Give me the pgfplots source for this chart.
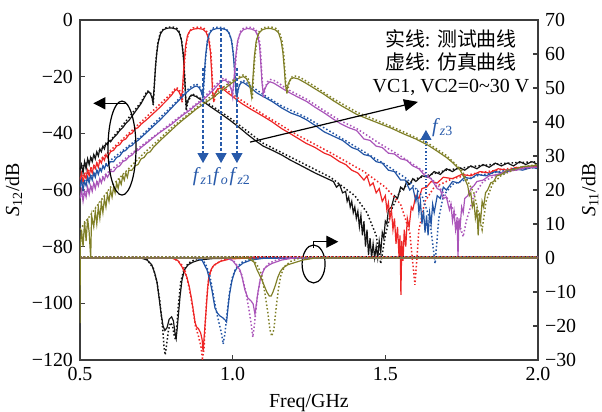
\documentclass[border=0pt]{standalone}
\usepackage{fontspec}
\setmainfont{Liberation Serif}
\newfontfamily\cjk{Noto Sans CJK SC}
\usepackage{pgfplots}
\pgfplotsset{compat=1.18}
\usetikzlibrary{arrows.meta}
\definecolor{cblk}{RGB}{20,20,20}
\definecolor{cred}{RGB}{238,38,38}
\definecolor{cblue}{RGB}{35,85,165}
\definecolor{cpur}{RGB}{170,85,185}
\definecolor{coli}{RGB}{128,128,40}
\definecolor{anblue}{RGB}{40,90,170}
\definecolor{axgray}{RGB}{60,60,60}
\tikzset{meas/.style={line width=0.6bp},
  sim/.style={line width=0.75bp, dash pattern=on 0.75bp off 1.1bp}}
\begin{document}
\begin{tikzpicture}[font=\fontsize{10}{12}\selectfont]
\begin{axis}[
  scale only axis, width=229bp, height=170bp,
  xmin=0.5, xmax=2.0, ymin=-120, ymax=0,
  xtick={0.5,1.0,1.5,2.0}, xticklabels={0.5,1.0,1.5,2.0},
  ytick={-120,-100,-80,-60,-40,-20,0},
  yticklabels={−120,−100,−80,−60,−40,−20,0},
  xtick pos=bottom, ytick pos=left, tick align=inside,
  major tick length=2.5bp,
  axis line style={axgray, line width=0.7bp},
  tick style={axgray, line width=0.6bp},
  xlabel={Freq/GHz}, ylabel={\textit{S}\textsubscript{12}/dB},
  ylabel style={yshift=-2bp},
  no markers, clip=true,
]
% ---- black
\addplot[cblk, meas] coordinates {(0.500,-53)(0.505,-51)(0.510,-54)(0.515,-50)(0.520,-52.5)(0.525,-49)(0.530,-51)(0.535,-48.5)(0.540,-50)(0.545,-47.5)(0.550,-49)(0.555,-46.5)(0.560,-48)(0.565,-45.5)(0.570,-46.5)(0.575,-44.5)(0.580,-45.5)(0.585,-43.5)(0.590,-44)(0.595,-42.5)(0.600,-43)(0.61,-41.5)(0.62,-40.5)(0.63,-39)(0.64,-38)(0.65,-36.5)(0.66,-35.5)(0.67,-34)(0.68,-32.5)(0.69,-31)(0.70,-29.5)(0.71,-27.5)(0.718,-26)(0.725,-25.3)(0.731,-26)(0.736,-27.5)(0.739,-29)(0.743,-24)(0.747,-17)(0.751,-12)(0.756,-8)(0.763,-5)(0.772,-3.5)(0.785,-2.9)(0.80,-2.8)(0.815,-3.2)(0.825,-4.5)(0.832,-7)(0.838,-12)(0.842,-19)(0.846,-27)(0.848,-30.5)(0.853,-28.5)(0.86,-27)(0.867,-26.5)(0.88,-27)(0.90,-28.5)(0.93,-30.8)(0.96,-33)(0.99,-35.3)(1.02,-37.8)(1.05,-40.5)(1.08,-43)(1.10,-44.5)(1.13,-46)(1.16,-47.6)(1.19,-49.5)(1.21,-50.6)(1.24,-52.3)(1.27,-54)(1.30,-55.5)(1.32,-56.5)(1.33,-57)(1.34,-59)(1.35,-58)(1.36,-61)(1.37,-60.5)(1.375,-64)(1.38,-62.5)(1.385,-66)(1.39,-64)(1.395,-68)(1.40,-66)(1.405,-70)(1.41,-67.5)(1.415,-73)(1.42,-69)(1.425,-76)(1.43,-71)(1.435,-80)(1.44,-74)(1.445,-83)(1.45,-77)(1.455,-84)(1.46,-79)(1.465,-84)(1.47,-80)(1.475,-84)(1.48,-78)(1.485,-82)(1.49,-75)(1.495,-77)(1.50,-71)(1.505,-72)(1.51,-67)(1.52,-66)(1.53,-62)(1.54,-63)(1.55,-59)(1.56,-60)(1.57,-57)(1.58,-58)(1.59,-56)(1.60,-57)(1.62,-55)(1.64,-55.5)(1.66,-53.5)(1.68,-54.5)(1.70,-52.5)(1.72,-53.5)(1.74,-52)(1.76,-53)(1.78,-51.5)(1.80,-52.5)(1.82,-51)(1.84,-52)(1.86,-50.5)(1.88,-51.5)(1.90,-50.5)(1.92,-51.5)(1.94,-50)(1.96,-51)(1.98,-50)(2.0,-51)};
\addplot[cblk, sim] coordinates {(0.5,-52.5)(0.6,-42.5)(0.7,-29)(0.72,-25)(0.73,-25.5)(0.737,-27.5)(0.740,-30)(0.744,-22)(0.749,-14)(0.755,-8)(0.763,-4.5)(0.775,-3)(0.79,-2.5)(0.805,-2.5)(0.818,-3)(0.827,-4.5)(0.834,-8)(0.84,-14)(0.844,-22)(0.848,-32)(0.853,-29)(0.867,-26)(0.90,-28)(0.99,-34.5)(1.1,-43.5)(1.21,-49.5)(1.32,-55.5)(1.40,-62)(1.44,-68)(1.47,-76)(1.485,-86)(1.50,-76)(1.52,-67)(1.55,-60)(1.60,-56)(1.70,-53)(1.80,-51.5)(1.9,-50.5)(2.0,-50)};
% ---- red
\addplot[cred, meas] coordinates {(0.5,-56.5)(0.505,-54)(0.51,-57.5)(0.515,-54.5)(0.52,-56)(0.525,-53)(0.53,-55)(0.535,-52.5)(0.54,-54)(0.545,-51.5)(0.55,-52.5)(0.555,-50.5)(0.56,-52)(0.565,-49.5)(0.57,-50.5)(0.575,-48.5)(0.58,-49.5)(0.585,-47.5)(0.59,-48.5)(0.6,-46.5)(0.61,-46)(0.62,-44.5)(0.63,-44)(0.64,-42.5)(0.65,-42)(0.66,-40.5)(0.67,-40)(0.68,-38.5)(0.69,-38)(0.70,-36.8)(0.72,-35)(0.74,-33)(0.76,-31)(0.78,-28.8)(0.80,-26.5)(0.81,-25)(0.817,-24.5)(0.824,-25.3)(0.829,-26.5)(0.833,-28)(0.837,-22)(0.841,-15)(0.846,-9)(0.852,-5.5)(0.86,-3.8)(0.872,-3.2)(0.888,-3)(0.903,-3.3)(0.913,-4.3)(0.921,-6.5)(0.927,-11)(0.931,-18)(0.934,-25)(0.937,-28)(0.942,-26)(0.95,-24.5)(0.959,-24)(0.97,-24.5)(0.985,-25.8)(1.0,-27)(1.03,-29.5)(1.06,-31.5)(1.10,-34)(1.13,-36)(1.16,-38.3)(1.19,-40.2)(1.21,-41.5)(1.24,-43.5)(1.27,-45)(1.30,-47)(1.32,-47.8)(1.35,-50)(1.37,-51)(1.39,-53)(1.41,-54)(1.43,-56.5)(1.44,-55)(1.45,-58.5)(1.46,-57.5)(1.47,-61)(1.48,-59.5)(1.49,-64)(1.50,-62)(1.505,-67)(1.51,-64.5)(1.515,-70)(1.52,-67)(1.525,-74)(1.53,-70)(1.535,-79)(1.54,-73)(1.545,-84)(1.548,-76)(1.551,-97)(1.554,-78)(1.558,-85)(1.562,-74)(1.567,-80)(1.572,-70)(1.578,-73)(1.585,-66)(1.59,-67)(1.60,-62)(1.61,-63)(1.62,-59.5)(1.635,-59)(1.65,-57)(1.67,-57.5)(1.69,-55.5)(1.72,-56)(1.75,-54.5)(1.78,-55)(1.81,-53.5)(1.84,-54)(1.87,-52.5)(1.90,-53)(1.93,-52)(1.96,-52.5)(2.0,-51.5)};
\addplot[cred, sim] coordinates {(0.5,-56)(0.6,-46)(0.7,-36)(0.8,-25.8)(0.815,-23.8)(0.825,-24.5)(0.831,-26)(0.835,-29)(0.839,-21)(0.844,-13)(0.85,-7)(0.858,-4)(0.87,-2.8)(0.888,-2.5)(0.905,-2.8)(0.915,-4)(0.923,-7)(0.929,-12)(0.933,-20)(0.936,-27)(0.939,-29)(0.945,-25.5)(0.957,-23.3)(0.97,-23.8)(1.0,-26.3)(1.1,-33.3)(1.21,-40.5)(1.32,-46.8)(1.43,-53.5)(1.50,-59)(1.55,-65)(1.58,-75)(1.597,-93.5)(1.61,-74)(1.63,-64)(1.66,-59)(1.72,-56)(1.8,-54)(1.9,-52.5)(2.0,-51.5)};
% ---- blue
\addplot[cblue, meas] coordinates {(0.5,-59)(0.505,-56.5)(0.51,-60)(0.515,-57)(0.52,-58.5)(0.525,-55.5)(0.53,-57.5)(0.535,-55)(0.54,-56.5)(0.545,-54)(0.55,-55.5)(0.555,-53)(0.56,-54.5)(0.565,-52.5)(0.57,-53.5)(0.575,-51.5)(0.58,-52.5)(0.585,-51)(0.59,-51.5)(0.6,-50)(0.61,-50)(0.62,-48.5)(0.63,-48)(0.64,-46.5)(0.65,-46)(0.66,-44.8)(0.67,-44.3)(0.68,-43.2)(0.69,-42.5)(0.70,-41.5)(0.72,-39.5)(0.74,-37.5)(0.76,-35.5)(0.78,-33.3)(0.80,-31)(0.82,-28.8)(0.84,-26.5)(0.86,-24.5)(0.875,-23.5)(0.883,-23.3)(0.891,-24)(0.897,-25.3)(0.902,-27)(0.906,-21)(0.911,-13)(0.917,-7.5)(0.924,-4.8)(0.933,-3.5)(0.948,-3)(0.963,-3)(0.978,-3.4)(0.988,-4.5)(0.996,-7)(1.002,-12)(1.007,-19)(1.011,-26)(1.014,-27)(1.019,-24)(1.026,-22.3)(1.034,-22)(1.045,-22.8)(1.06,-24)(1.08,-25.8)(1.10,-27)(1.13,-28.8)(1.16,-31)(1.19,-32.8)(1.22,-34)(1.243,-35.3)(1.27,-37.2)(1.30,-39.5)(1.33,-41)(1.36,-42.5)(1.39,-45)(1.41,-45.8)(1.43,-47.5)(1.45,-48)(1.47,-50)(1.49,-50.5)(1.51,-53)(1.53,-53.5)(1.55,-56.5)(1.565,-56.5)(1.58,-60)(1.59,-59)(1.60,-64)(1.605,-61)(1.61,-68)(1.615,-64)(1.62,-72)(1.625,-67)(1.63,-75)(1.635,-69)(1.64,-76)(1.645,-68)(1.65,-72)(1.655,-65)(1.66,-68)(1.67,-62)(1.68,-63)(1.69,-59)(1.70,-60)(1.72,-57)(1.74,-57.5)(1.76,-55.5)(1.78,-56)(1.80,-54.5)(1.83,-55)(1.86,-53.5)(1.89,-54)(1.92,-52.5)(1.95,-53)(1.98,-52)(2.0,-52.5)};
\addplot[cblue, sim] coordinates {(0.5,-58.5)(0.6,-49.5)(0.7,-41)(0.8,-30.5)(0.86,-23.8)(0.88,-22.5)(0.892,-23.5)(0.899,-25.5)(0.903,-28.5)(0.907,-21)(0.912,-13)(0.918,-7)(0.926,-4)(0.937,-2.8)(0.953,-2.5)(0.968,-2.7)(0.98,-3.3)(0.99,-5)(0.998,-8)(1.004,-14)(1.009,-22)(1.013,-28)(1.017,-25)(1.024,-22)(1.034,-21.3)(1.05,-22.5)(1.10,-26.3)(1.16,-30.3)(1.243,-34.5)(1.33,-40)(1.43,-46.5)(1.50,-51)(1.57,-56)(1.62,-62)(1.645,-70)(1.663,-86)(1.675,-70)(1.69,-62)(1.72,-58)(1.8,-55)(1.9,-53)(2.0,-52)};
% ---- purple
\addplot[cpur, meas] coordinates {(0.5,-63)(0.505,-60)(0.51,-64)(0.515,-60.5)(0.52,-62.5)(0.525,-59)(0.53,-61.5)(0.535,-58.5)(0.54,-60.5)(0.545,-57.5)(0.55,-59.5)(0.555,-57)(0.56,-58.5)(0.565,-56)(0.57,-57.5)(0.575,-55.5)(0.58,-56.5)(0.585,-54.5)(0.59,-55.5)(0.6,-53.5)(0.61,-53.5)(0.62,-52)(0.63,-51.5)(0.64,-50)(0.65,-49.5)(0.66,-48.3)(0.67,-47.7)(0.68,-46.5)(0.69,-46)(0.70,-45)(0.72,-43.3)(0.74,-41.5)(0.76,-39.8)(0.78,-38.3)(0.80,-36.8)(0.82,-35)(0.84,-33.3)(0.86,-31.8)(0.88,-30)(0.90,-28.5)(0.92,-26.5)(0.94,-24.3)(0.955,-22.5)(0.967,-21.4)(0.975,-21.2)(0.984,-22)(0.991,-23.3)(0.996,-24.8)(1.0,-26)(1.005,-20)(1.01,-13)(1.016,-7.5)(1.024,-4.8)(1.034,-3.5)(1.048,-3)(1.062,-3.2)(1.074,-3.8)(1.082,-5.5)(1.088,-9)(1.092,-15)(1.096,-22)(1.10,-26)(1.105,-24.5)(1.112,-22.8)(1.122,-21.8)(1.135,-22.3)(1.15,-23.3)(1.18,-25.3)(1.21,-27)(1.243,-28.8)(1.27,-30.8)(1.30,-32.8)(1.33,-35)(1.352,-36.5)(1.38,-38)(1.406,-39)(1.43,-42)(1.45,-42.5)(1.47,-44.5)(1.49,-45)(1.51,-47)(1.53,-47.3)(1.55,-49)(1.57,-49.5)(1.59,-51.5)(1.61,-52.5)(1.63,-55)(1.65,-56)(1.67,-59.5)(1.68,-60)(1.69,-63)(1.70,-62.5)(1.71,-67)(1.715,-65)(1.72,-71)(1.725,-67.5)(1.73,-74)(1.735,-70)(1.738,-84)(1.741,-70)(1.745,-73)(1.75,-66)(1.755,-68)(1.76,-63)(1.77,-62)(1.78,-59.5)(1.79,-58.5)(1.80,-57)(1.82,-56.5)(1.84,-55)(1.87,-54.5)(1.90,-53)(1.93,-53)(1.96,-52)(2.0,-52)};
\addplot[cpur, sim] coordinates {(0.5,-62.5)(0.6,-53)(0.7,-44.5)(0.8,-36.3)(0.9,-28)(0.95,-22.3)(0.97,-20.5)(0.985,-21.3)(0.994,-23.5)(1.0,-27)(1.006,-20)(1.012,-12)(1.018,-7)(1.026,-4)(1.036,-2.8)(1.05,-2.5)(1.064,-2.7)(1.076,-3.4)(1.084,-5)(1.09,-9)(1.094,-16)(1.098,-23)(1.101,-27.5)(1.106,-24)(1.114,-21.8)(1.124,-21)(1.14,-21.5)(1.18,-24.5)(1.243,-28)(1.30,-32)(1.352,-35.5)(1.406,-38.3)(1.48,-43.5)(1.55,-48)(1.62,-53)(1.67,-58)(1.71,-64)(1.74,-71)(1.755,-76.5)(1.765,-71)(1.79,-62)(1.82,-57)(1.87,-54.5)(1.94,-52.5)(2.0,-51.8)};
% ---- olive
\addplot[coli, meas] coordinates {(0.5,-107)(0.501,-80)(0.505,-74)(0.51,-80)(0.515,-71)(0.52,-78)(0.525,-70)(0.53,-75)(0.535,-84)(0.538,-69)(0.545,-73)(0.55,-67.5)(0.555,-72)(0.56,-66)(0.565,-70)(0.57,-64.5)(0.575,-68)(0.58,-63)(0.585,-66)(0.59,-61.5)(0.595,-64)(0.6,-60)(0.605,-62.5)(0.61,-59)(0.615,-61)(0.62,-57.5)(0.625,-59.5)(0.63,-56.5)(0.635,-58)(0.64,-55)(0.645,-56.5)(0.65,-54)(0.655,-55.5)(0.66,-53)(0.67,-53)(0.68,-51.5)(0.69,-51)(0.70,-49)(0.71,-48.5)(0.72,-47)(0.73,-46.5)(0.74,-45)(0.76,-42.8)(0.78,-40.8)(0.80,-38.8)(0.82,-36.8)(0.84,-35)(0.86,-33.3)(0.88,-31.5)(0.90,-30)(0.92,-28.5)(0.94,-27)(0.96,-25.3)(0.98,-23.7)(1.00,-22)(1.015,-20.8)(1.028,-20.2)(1.036,-20)(1.045,-20.7)(1.053,-22.3)(1.058,-24.3)(1.062,-27)(1.066,-21)(1.071,-13)(1.077,-7.5)(1.085,-4.8)(1.096,-3.5)(1.11,-3)(1.125,-3)(1.14,-3.5)(1.15,-4.5)(1.158,-7)(1.164,-11)(1.169,-17)(1.173,-23)(1.177,-25)(1.182,-22.5)(1.19,-20.8)(1.20,-20.4)(1.215,-20.8)(1.24,-22.3)(1.27,-24.3)(1.296,-26)(1.33,-28.5)(1.36,-30.5)(1.406,-33.3)(1.44,-34.8)(1.48,-36.5)(1.52,-38.2)(1.56,-40.2)(1.60,-42)(1.64,-44.2)(1.67,-46.3)(1.70,-48.5)(1.72,-50.3)(1.745,-53)(1.76,-56)(1.77,-58.5)(1.775,-62)(1.78,-61)(1.785,-66)(1.79,-64)(1.795,-70)(1.80,-67)(1.804,-76)(1.808,-68)(1.812,-71)(1.817,-64)(1.822,-66)(1.828,-61)(1.835,-60)(1.845,-57.5)(1.855,-57)(1.865,-55)(1.88,-54.5)(1.90,-53)(1.92,-52.8)(1.95,-51.7)(1.98,-51.5)(2.0,-51.2)};
\addplot[coli, sim] coordinates {(0.5,-74)(0.6,-59)(0.7,-48)(0.8,-38)(0.9,-29.3)(1.0,-21.3)(1.036,-19.3)(1.05,-20.5)(1.058,-23)(1.064,-28)(1.068,-21)(1.073,-13)(1.079,-7)(1.087,-4)(1.098,-2.8)(1.112,-2.5)(1.127,-2.5)(1.142,-3)(1.153,-4.3)(1.161,-7)(1.167,-12)(1.172,-19)(1.176,-25)(1.179,-26)(1.185,-22)(1.195,-20)(1.205,-19.8)(1.22,-20.2)(1.27,-23.5)(1.33,-27.8)(1.406,-32.5)(1.48,-35.8)(1.56,-39.5)(1.64,-43.5)(1.70,-47.8)(1.75,-53)(1.79,-61)(1.817,-74)(1.83,-64)(1.85,-58)(1.88,-54.8)(1.94,-52)(2.0,-51)};
% ---- annotations
\draw[black, line width=0.6bp] (axis cs:0.6376,-45.2) ellipse [x radius=7bp, y radius=23.5bp];
\draw[black, line width=0.6bp, -{Triangle[length=6bp,width=6bp]}] (axis cs:0.653,-29.4) -- (axis cs:0.5436,-29.4);
\draw[black, line width=0.6bp, -{Triangle[length=7bp,width=6bp]}] (axis cs:1.057,-43.1) -- (axis cs:1.607,-28.9);
\draw[black, line width=0.6bp] (axis cs:1.265,-86.1) ellipse [x radius=5.75bp, y radius=9.5bp];
\draw[black, line width=0.6bp, -{Triangle[length=6bp,width=6bp]}] (axis cs:1.264,-80.5) -- (axis cs:1.264,-78.25) -- (axis cs:1.346,-78.25);
\begin{scope}[anblue, line width=0.6bp, dash pattern=on 1.6bp off 1bp]
\draw[-{Triangle[length=5bp,width=5.5bp]}] (axis cs:0.903,-16.9) -- (axis cs:0.903,-50.5);
\draw[-{Triangle[length=5bp,width=5.5bp]}] (axis cs:0.962,-2.8) -- (axis cs:0.962,-50.5);
\draw[-{Triangle[length=5bp,width=5.5bp]}] (axis cs:1.014,-16.9) -- (axis cs:1.014,-50.5);
\end{scope}
\draw[anblue, line width=0.6bp, dash pattern=on 0.7bp off 1bp, -{Triangle[length=5bp,width=5.5bp]}] (axis cs:1.633,-62.5) -- (axis cs:1.633,-38.8);
\node[anblue, inner sep=0] at (axis cs:0.9045,-55.4) {\textit{f}\textsubscript{\textit{z}1}};
\node[anblue, inner sep=0] at (axis cs:0.962,-55.4) {\textit{f}\textsubscript{\textit{o}}};
\node[anblue, inner sep=0] at (axis cs:1.025,-55.4) {\textit{f}\textsubscript{\textit{z}2}};
\node[anblue, inner sep=0, anchor=west] at (axis cs:1.652,-38.1) {\textit{f}\textsubscript{\textit{z}3}};
\node[align=center, inner sep=0, font=\fontsize{10}{11.5}\selectfont] at (axis cs:1.715,-15.0)
  {{\cjk 实线}: {\cjk 测试曲线}\\{\cjk 虚线}: {\cjk 仿真曲线}\\VC1, VC2=0\textasciitilde 30 V};
\end{axis}
\begin{axis}[
  scale only axis, width=229bp, height=170bp,
  xmin=0.5, xmax=2.0, ymin=-30, ymax=70,
  axis y line*=right, axis x line=none,
  ytick={-30,-20,-10,0,10,20,30,40,50,60,70},
  yticklabels={−30,−20,−10,0,10,20,30,40,50,60,70},
  tick align=inside, major tick length=2.5bp,
  axis line style={axgray, line width=0.7bp},
  tick style={axgray, line width=0.6bp},
  ylabel={\textit{S}\textsubscript{11}/dB},
  ylabel style={at={(axis description cs:1.1135,0.5)}, anchor=center, rotate=0},
  no markers, clip=true,
]
\addplot[cblk, meas] coordinates {(0.5,0)(0.70,0)(0.72,-0.6)(0.735,-2)(0.745,-4.5)(0.752,-7)(0.758,-11)(0.765,-16)(0.772,-20)(0.778,-21.3)(0.785,-20.5)(0.792,-18)(0.80,-17.3)(0.806,-18.5)(0.811,-22)(0.815,-23.7)(0.818,-21)(0.823,-16)(0.828,-11)(0.834,-6.5)(0.842,-3.5)(0.854,-2)(0.87,-1.2)(0.89,-0.6)(0.93,-0.2)(1.0,0)(2.0,0)};
\addplot[cblk, sim] coordinates {(0.5,0.3)(0.70,0.3)(0.72,-0.5)(0.74,-3)(0.752,-7)(0.762,-13)(0.77,-20)(0.775,-26)(0.779,-28.5)(0.783,-26)(0.79,-21)(0.797,-19)(0.803,-20)(0.809,-23)(0.813,-24)(0.817,-20)(0.822,-14)(0.83,-7)(0.84,-3.5)(0.855,-1.5)(0.88,-0.3)(0.9,0.3)(2.0,0.3)};
\addplot[cred, meas] coordinates {(0.5,0)(0.8,0)(0.82,-0.7)(0.834,-2.6)(0.85,-5.6)(0.858,-8.5)(0.866,-12.4)(0.872,-16)(0.877,-19)(0.882,-20.3)(0.888,-20.8)(0.895,-22)(0.9,-24)(0.903,-27.5)(0.906,-24)(0.91,-19)(0.914,-14)(0.918,-9)(0.922,-5.5)(0.93,-3.3)(0.94,-2)(0.96,-1)(0.99,-0.3)(1.05,0)(2.0,0)};
\addplot[cred, sim] coordinates {(0.5,0.3)(0.8,0.3)(0.83,-1.5)(0.845,-4)(0.858,-9)(0.868,-14)(0.878,-20)(0.888,-23)(0.896,-26)(0.901,-29.5)(0.906,-27)(0.91,-20)(0.915,-12)(0.922,-5.5)(0.935,-2.5)(0.96,-0.8)(1.0,0.3)(2.0,0.3)};
\addplot[cblue, meas] coordinates {(0.5,0)(0.88,0)(0.9,-0.7)(0.916,-3.5)(0.925,-6.5)(0.932,-9.4)(0.942,-14.7)(0.95,-16.2)(0.958,-17)(0.968,-17.6)(0.976,-18.3)(0.98,-18.8)(0.985,-14.4)(0.99,-10.5)(0.998,-6.5)(1.006,-4.2)(1.014,-2.9)(1.034,-1.5)(1.06,-0.6)(1.1,-0.1)(2.0,0)};
\addplot[cblue, sim] coordinates {(0.5,0.3)(0.89,0.3)(0.91,-1.5)(0.925,-5)(0.935,-10)(0.945,-15)(0.955,-19)(0.963,-22)(0.969,-25.3)(0.975,-22)(0.982,-16)(0.99,-10)(0.998,-6)(1.01,-3)(1.03,-1.3)(1.07,0)(2.0,0.3)};
\addplot[cpur, meas] coordinates {(0.5,0)(0.98,0)(1.0,-0.8)(1.024,-3.5)(1.032,-6)(1.04,-9.4)(1.05,-11.8)(1.06,-12.6)(1.067,-13.5)(1.073,-16.5)(1.077,-14)(1.082,-10.5)(1.09,-6.5)(1.098,-4.3)(1.106,-2.9)(1.12,-2)(1.132,-1.5)(1.16,-0.6)(1.2,0)(2.0,0)};
\addplot[cpur, sim] coordinates {(0.5,0.3)(0.99,0.3)(1.01,-1.5)(1.03,-5)(1.043,-10)(1.053,-15)(1.06,-19)(1.066,-23.3)(1.072,-19)(1.08,-12)(1.09,-6.5)(1.1,-3.5)(1.12,-1.5)(1.16,0)(2.0,0.3)};
\addplot[coli, meas] coordinates {(0.5,0)(1.05,0)(1.07,-1.2)(1.08,-3.5)(1.088,-5)(1.096,-6.5)(1.104,-8.3)(1.112,-10)(1.12,-11.2)(1.126,-11.2)(1.132,-10)(1.14,-8)(1.148,-5.6)(1.156,-4)(1.165,-2.9)(1.18,-2)(1.198,-1.5)(1.23,-0.6)(1.27,0)(2.0,0)};
\addplot[coli, sim] coordinates {(0.5,0.3)(1.06,0.3)(1.08,-2)(1.095,-5)(1.105,-10)(1.115,-16)(1.122,-21)(1.128,-23)(1.135,-21)(1.142,-15)(1.15,-9)(1.158,-5)(1.17,-2.5)(1.19,-1)(1.22,0)(2.0,0.3)};
\end{axis}
\pgfresetboundingbox
\path (current axis.south west) ++(-40bp,-26bp) rectangle ++(301bp,206bp);
\end{tikzpicture}
\end{document}
